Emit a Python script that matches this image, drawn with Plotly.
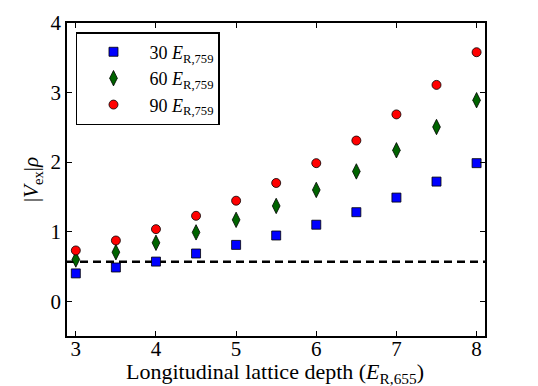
import plotly.graph_objects as go

depth = [3, 3.5, 4, 4.5, 5, 5.5, 6, 6.5, 7, 7.5, 8]
v30 = [0.40, 0.485, 0.57, 0.686, 0.81, 0.945, 1.10, 1.28, 1.49, 1.72, 1.985]
v60 = [0.60, 0.705, 0.84, 0.99, 1.17, 1.37, 1.60, 1.866, 2.17, 2.505, 2.89]
v90 = [0.73, 0.873, 1.036, 1.228, 1.445, 1.70, 1.985, 2.31, 2.686, 3.11, 3.58]
threshold = 0.567
x_ticks = [3, 4, 5, 6, 7, 8]
y_ticks = [0, 1, 2, 3, 4]

FONT = "Liberation Serif"

fig = go.Figure()
series = [
    ("30 <i>E</i><sub>R,759</sub>", v30, "square", "#0000ff", 9),
    ("60 <i>E</i><sub>R,759</sub>", v60, "diamond-tall", "#006400", 11),
    ("90 <i>E</i><sub>R,759</sub>", v90, "circle", "#ff0000", 9),
]
for name, vals, sym, col, sz in series:
    fig.add_trace(go.Scatter(
        x=depth, y=vals, mode="markers", name=name,
        marker=dict(symbol=sym, color=col, size=sz,
                    line=dict(color="black", width=0.8)),
    ))

fig.add_hline(y=threshold, line=dict(color="black", width=2.5, dash="8px,5px"),
              layer="below")

axis_common = dict(
    showline=True, linecolor="black", linewidth=1.5, mirror="allticks",
    ticks="inside", ticklen=5, tickwidth=1, tickcolor="black",
    showgrid=False, zeroline=False, automargin=False,
    tickfont=dict(family=FONT, size=21, color="black"),
)
fig.update_xaxes(range=[2.89, 8.105], tickvals=x_ticks, ticklabelstandoff=-7,
                 **axis_common)
fig.update_yaxes(range=[-0.5, 4], tickvals=y_ticks,
                 title=dict(text="|<i>V</i><sub>ex</sub>|<i>ρ</i>",
                            font=dict(family=FONT, size=21, color="black"), standoff=6),
                 **axis_common)

fig.add_annotation(
    text="Longitudinal lattice depth (<i>E</i><sub>R,655</sub>)",
    xref="paper", yref="paper", x=0.4976, y=-0.118,
    xanchor="center", yanchor="middle", showarrow=False,
    font=dict(family=FONT, size=22, color="black"),
)

fig.update_layout(
    width=530, height=378,
    margin=dict(l=59, r=53, t=15, b=50, autoexpand=False),
    paper_bgcolor="white", plot_bgcolor="white",
    font=dict(family=FONT, size=18, color="black"),
    legend=dict(x=0.0215, y=0.971, xanchor="left", yanchor="top",
                bordercolor="black", borderwidth=1.5, bgcolor="white",
                font=dict(family=FONT, size=18, color="black"),
                itemwidth=62, tracegroupgap=0),
    showlegend=True,
)

fig.write_html("out.html")
